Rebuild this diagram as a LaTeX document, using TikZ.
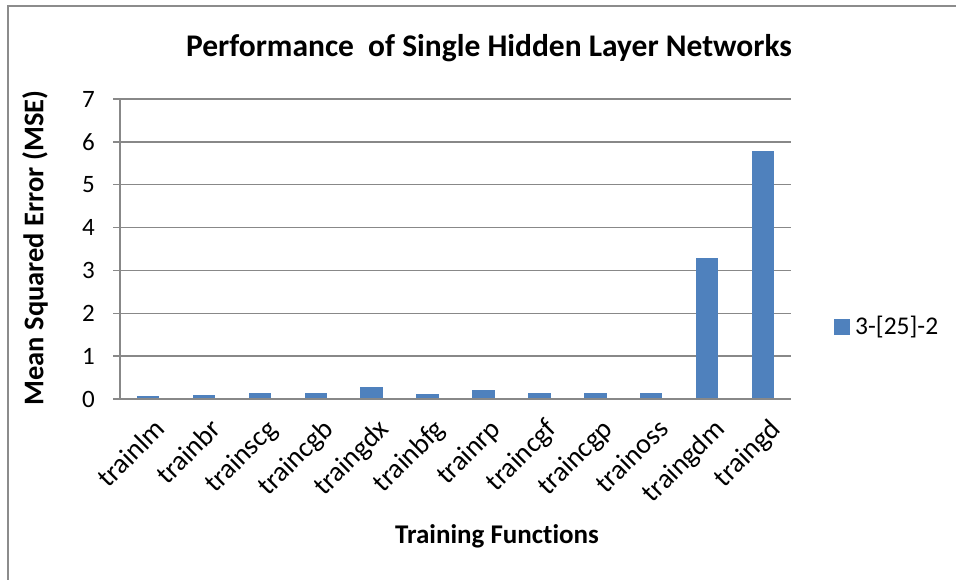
\documentclass[tikz,border=0pt]{standalone}
\usepackage{fontspec}
\setmainfont{Carlito}[Ligatures=NoCommon]
\definecolor{barblue}{HTML}{4F81BD}
\definecolor{gridgray}{HTML}{888888}
\definecolor{framegray}{HTML}{8C8C8C}
\tikzset{
  gridline/.style={gridgray, line width=1.3pt},
  axisline/.style={gridgray, line width=1.3pt},
  ticklabel/.style={font=\fontsize{25}{25}\selectfont, inner sep=0pt},
  catlabel/.style={font=\fontsize{28}{28}\selectfont, inner sep=0pt, rotate=45, anchor=north east},
}
\begin{document}
\begin{tikzpicture}[x=1pt, y=-1pt]
  \useasboundingbox (0,0) rectangle (956,580);
  \fill[white] (0,0) rectangle (956,580);
  % chart frame (only the top and left sides lie inside the page)
  \draw[framegray, line width=1.5pt] (8,590) -- (8,6) -- (970,6);

  % title
  \node[font=\fontsize{31.5}{31.5}\selectfont\bfseries, inner sep=0pt] (title) at (489,48)
    {Performance\ \ of Single Hidden Layer Networks};

  % horizontal grid and value labels
  \foreach \v in {1,...,7} {
    \draw[gridline] (113,{399-\v*42.857}) -- (791,{399-\v*42.857});
  }
  \foreach \v in {0,...,7} {
    \node[ticklabel, anchor=east] (tick\v) at (95,{399-\v*42.857}) {\v};
  }

  % bars
  \foreach \v [count=\i] in {0.07,0.10,0.13,0.13,0.28,0.11,0.21,0.13,0.13,0.13,3.29,5.79} {
    \pgfmathsetmacro{\cx}{120+(\i-0.5)*55.917}
    \fill[barblue] ({\cx-11.2},399) rectangle ({\cx+11.2},{399-\v*42.857});
  }

  % axes
  \draw[axisline] (120,99) -- (120,399);
  \draw[axisline] (113,399) -- (791,399);

  % category labels
  \foreach \name [count=\i] in {trainlm,trainbr,trainscg,traincgb,traingdx,trainbfg,trainrp,traincgf,traincgp,trainoss,traingdm,traingd} {
    \pgfmathsetmacro{\cx}{120+(\i-0.5)*55.917}
    \node[catlabel] (cat\i) at ({\cx+5},417) {\name};
  }

  % axis titles
  \node[font=\fontsize{28.5}{28.5}\selectfont\bfseries, inner sep=0pt, rotate=90] (ytitle) at (35,248) {Mean Squared Error (MSE)};
  \node[font=\fontsize{27}{27}\selectfont\bfseries, inner sep=0pt] (xtitle) at (497,536) {Training Functions};

  % legend
  \fill[barblue] (834,319) rectangle (850,335);
  \node[font=\fontsize{25.5}{25.5}\selectfont, inner sep=0pt, anchor=west] (legend) at (855,327) {3-[25]-2};
\end{tikzpicture}
\end{document}
